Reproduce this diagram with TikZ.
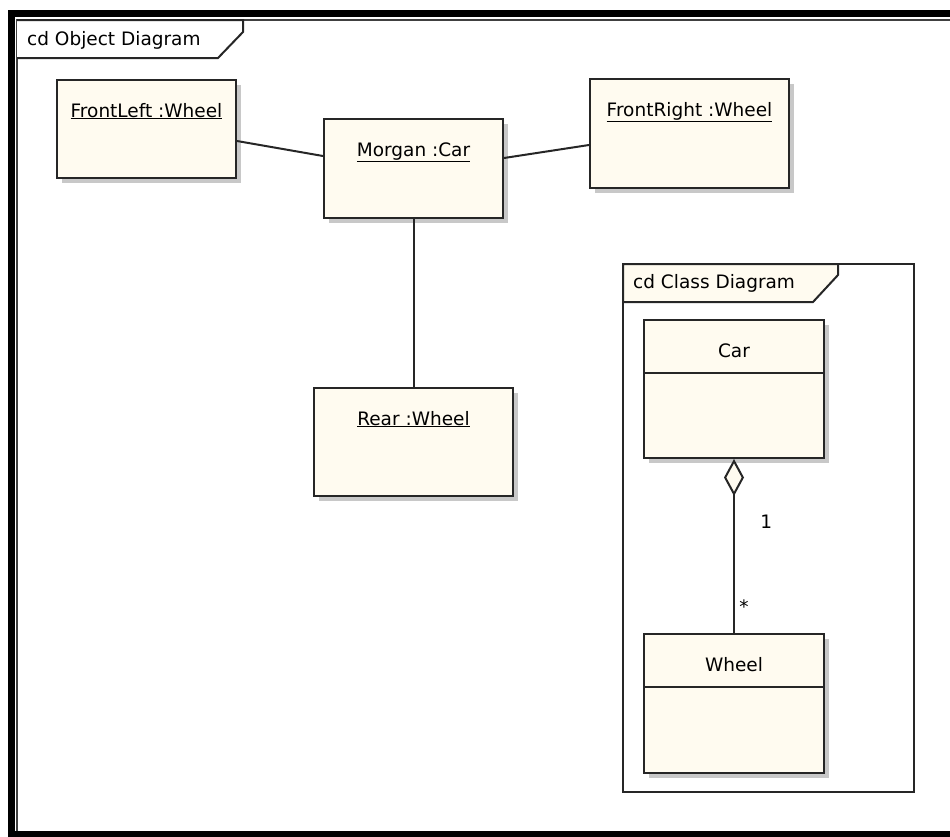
\documentclass[tikz,border=0pt]{standalone}
\usepackage{fontspec}
\setmainfont{DejaVu Sans}
\usetikzlibrary{arrows.meta,shadows,calc}
\definecolor{umlcream}{RGB}{255,251,240}
\definecolor{umlshadow}{RGB}{200,200,200}
\newcommand{\umlfont}{\fontsize{18.5}{22}\selectfont}

\begin{document}
\begin{tikzpicture}[x=1pt, y=-1pt,
    umlline/.style={line width=2pt, draw=black!85},
    umlbox/.style={umlline, fill=umlcream, anchor=north west, inner xsep=0pt, inner ysep=10pt,
        text height=27pt, text depth=#1, font=\umlfont,
        drop shadow={shadow xshift=5pt, shadow yshift=-5pt, fill=umlshadow, opacity=1}},
    tabtext/.style={anchor=west, inner sep=0pt, font=\umlfont}]
    \useasboundingbox (0,0) rectangle (950,836);
    \clip (0,0) rectangle (950,836);

    % outer window border and object diagram frame
    \draw[line width=7pt] (11.5,13.5) rectangle (1000,834.5);
    \draw[line width=1.5pt, black!75] (17,831) -- (17,20) -- (960,20);
    \draw[umlline, fill=white] (17,20) -- (243,20) -- (243,32) -- (218,58) -- (17,58);
    \node[tabtext] (objtitle) at (27,40) {cd Object Diagram};

    % objects
    \node[umlbox=51pt, minimum width=179pt] (frontleft) at (56,79) {\underline{FrontLeft :Wheel}};
    \node[umlbox=52pt, minimum width=179pt] (morgan) at (323,118) {\underline{Morgan :Car}};
    \node[umlbox=62pt, minimum width=199pt] (frontright) at (589,78) {\underline{FrontRight :Wheel}};
    \node[umlbox=61pt, minimum width=199pt] (rear) at (313,387) {\underline{Rear :Wheel}};

    \draw[umlline] ([yshift=-12pt]frontleft.east) -- ([yshift=12.5pt]morgan.west);
    \draw[umlline] ([yshift=10.5pt]morgan.east) -- ([yshift=-11.5pt]frontright.west);
    \draw[umlline] (morgan.south) -- (rear.north);

    % class diagram frame
    \draw[umlline, fill=white] (623,264) rectangle (914,792);
    \draw[umlline, fill=umlcream] (623,264) -- (838,264) -- (838,275) -- (813,302) -- (623,302) -- cycle;
    \node[tabtext] (classtitle) at (633,283) {cd Class Diagram};

    % classes
    \node[umlbox=91pt, minimum width=180pt] (car) at (643,319) {Car};
    \node[umlbox=92pt, minimum width=180pt] (wheel) at (643,633) {Wheel};
    \draw[umlline] ($(car.north west)+(0,54)$) -- ($(car.north east)+(0,54)$);
    \draw[umlline] ($(wheel.north west)+(0,54)$) -- ($(wheel.north east)+(0,54)$);

    \draw[umlline, {Diamond[length=37pt, width=20pt, fill=umlcream]}-] (car.south) --
        node[pos=.36, right=22pt, font=\umlfont] (multone) {1}
        node[pos=.85, right=1pt, font=\umlfont] (multmany) {*} (wheel.north);
\end{tikzpicture}
\end{document}
